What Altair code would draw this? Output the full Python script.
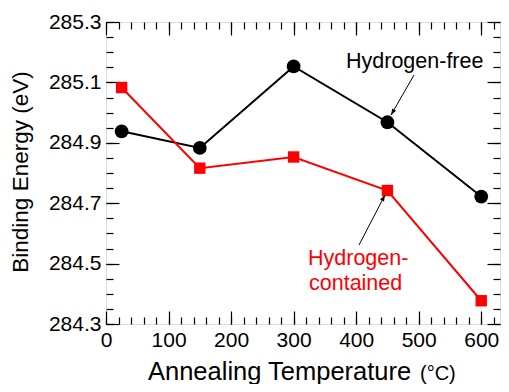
import altair as alt
import pandas as pd

# ---- data ----
temps = [25, 150, 300, 450, 600]
h_free = [284.938, 284.883, 285.153, 284.968, 284.722]
h_cont = [285.083, 284.816, 284.853, 284.742, 284.377]

x_major = [0, 100, 200, 300, 400, 500, 600]
x_minor = [0, 20, 40, 60, 80, 100, 120, 140, 160, 180, 200, 220, 240, 260, 280, 300,
           320, 340, 360, 380, 400, 420, 440, 460, 480, 500, 520, 540, 560, 580, 600, 620]
y_major = [284.3, 284.5, 284.7, 284.9, 285.1, 285.3]
y_minor = [284.3, 284.35, 284.4, 284.45, 284.5, 284.55, 284.6, 284.65, 284.7, 284.75, 284.8,
           284.85, 284.9, 284.95, 285.0, 285.05, 285.1, 285.15, 285.2, 285.25, 285.3]

df = pd.DataFrame({"T": temps, "free": h_free, "cont": h_cont})

FONT = "Liberation Sans"
W, H = 394, 302
MAJ, MIN = 13, 7

xs = alt.Scale(domain=[0, 630], nice=False)
ys = alt.Scale(domain=[284.3, 285.3], nice=False, zero=False)


def axis(orient, values, size, labels, fmt):
    return alt.Axis(orient=orient, values=values, tickSize=size, offset=-size,
                    domain=False, grid=False, labels=labels, title=None,
                    tickColor="black", tickWidth=1.2, format=fmt,
                    labelFont=FONT, labelFontSize=21, labelColor="black",
                    labelPadding=5, labelFlush=False, labelOverlap=False)


base = alt.Chart(df)

black_line = base.mark_line(color="black", strokeWidth=2).encode(
    x=alt.X("T:Q", scale=xs, axis=axis("bottom", x_major, MAJ, True, "d")),
    y=alt.Y("free:Q", scale=ys, axis=axis("left", y_major, MAJ, True, ".1f")),
)
black_pts = base.mark_point(shape="circle", filled=True, color="black", size=190, opacity=1).encode(
    x=alt.X("T:Q", scale=xs, axis=axis("bottom", x_minor, MIN, False, "d")),
    y=alt.Y("free:Q", scale=ys, axis=axis("left", y_minor, MIN, False, ".2f")),
)
red_line = base.mark_line(color="#ff0000", strokeWidth=2).encode(
    x=alt.X("T:Q", scale=xs, axis=axis("top", x_major, MAJ, False, "d")),
    y=alt.Y("cont:Q", scale=ys, axis=axis("right", y_major, MAJ, False, ".1f")),
)
red_pts = base.mark_point(shape="square", filled=True, color="#ff0000", size=130, opacity=1).encode(
    x=alt.X("T:Q", scale=xs, axis=axis("top", x_minor, MIN, False, "d")),
    y=alt.Y("cont:Q", scale=ys, axis=axis("right", y_minor, MIN, False, ".2f")),
)

one = alt.Data(values=[{}])


def label(text, x, y, size, color="black", angle=0, align="left", baseline="alphabetic"):
    return alt.Chart(one).mark_text(text=text, font=FONT, fontSize=size, color=color,
                                    angle=angle, align=align, baseline=baseline).encode(
        x=alt.value(x), y=alt.value(y))


def arrow(x1, y1, x2, y2, ang):
    shaft = alt.Chart(one).mark_rule(color="black", strokeWidth=1).encode(
        x=alt.value(x1), y=alt.value(y1), x2=alt.value(x2), y2=alt.value(y2))
    head = alt.Chart(one).mark_point(shape="M0,0 L0.35,1 L-0.35,1 Z", filled=True,
                                     color="black", opacity=1, size=160, angle=ang).encode(
        x=alt.value(x2), y=alt.value(y2))
    return shaft + head


texts = (
    label("Hydrogen-free", 240, 46, 21.5)
    + label("Hydrogen-", 202, 243, 21.5, color="#ff0000")
    + label("contained", 203, 268, 21.5, color="#ff0000")
    + label("Annealing Temperature", 42, 358, 25.5)
    + label("(°C)", 314, 358, 20)
    + label("Binding Energy (eV)", -85, 150, 22.5, angle=270, align="center", baseline="middle")
)

chart = alt.layer(
    black_line, black_pts, red_line, red_pts,
    arrow(308, 53, 285, 93, 210), arrow(253, 223, 279, 173, 28),
    texts,
).resolve_axis(x="independent", y="independent").properties(
    width=W, height=H,
    autosize=alt.AutoSizeParams(type="none"),
    padding={"left": 98, "top": 14, "right": 1, "bottom": 60},
).configure_view(stroke="black", strokeWidth=2).configure(background="white")

chart.save("out.html", embed_options={"renderer": "svg", "actions": False})
